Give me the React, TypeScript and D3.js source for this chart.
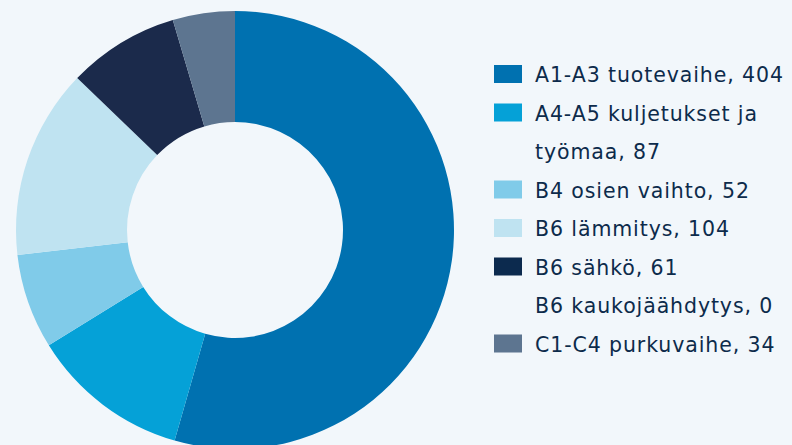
import React from "react";
import * as d3 from "d3";

const categories = [
  "A1-A3 tuotevaihe",
  "A4-A5 kuljetukset ja työmaa",
  "B4 osien vaihto",
  "B6 lämmitys",
  "B6 sähkö",
  "B6 kaukojäähdytys",
  "C1-C4 purkuvaihe",
];
const values = [404, 87, 52, 104, 61, 0, 34];
const colors = ["#0071b0", "#05a1d7", "#80cbe9", "#bfe3f1", "#1b2a4b", "#8fa3b8", "#5d7590"];
const legendColors = ["#0071b0", "#05a1d7", "#80cbe9", "#bfe3f1", "#0c2a4e", "#8fa3b8", "#5d7590"];

const W = 792;
const H = 445;

function wrap(text: string, maxChars: number): string[] {
  const words = text.split(" ");
  const lines: string[] = [];
  let cur = "";
  for (const w of words) {
    const next = cur ? cur + " " + w : w;
    if (next.length > maxChars && cur) {
      lines.push(cur);
      cur = w;
    } else cur = next;
  }
  if (cur) lines.push(cur);
  return lines;
}

export default function App() {
  const cx = 235, cy = 230, rOuter = 219, rInner = 108;
  const data = categories.map((c, i) => ({ name: c, value: values[i], color: colors[i], lc: legendColors[i] }));
  const pie = d3.pie<any>().value((d) => d.value).sort(null)(data);
  const arc = d3.arc<any>().innerRadius(rInner).outerRadius(rOuter);

  const lx = 494, tx = 535, y0 = 82, step = 38.5;
  let row = 0;
  const legendItems = data.map((d) => {
    const lines = wrap(`${d.name}, ${d.value}`, 24);
    const startRow = row;
    row += lines.length;
    return { ...d, lines, startRow };
  });

  return (
    <svg width={W} height={H} style={{ position: "absolute", left: 0, top: 0, background: "#f2f7fb" }}>
      <rect x={0} y={0} width={W} height={H} fill="#f2f7fb" />
      <g transform={`translate(${cx},${cy})`}>
        {pie.map((p, i) => (
          <path key={i} d={arc(p) || ""} fill={p.data.color} />
        ))}
      </g>
      <g fontFamily="'DejaVu Sans', sans-serif" fontSize={20.5} letterSpacing={0.9} fill="#0d2b4b">
        {legendItems.map((d, i) => (
          <g key={i}>
            {d.value > 0 && (
              <rect x={lx} y={y0 + d.startRow * step - 17} width={28} height={18} fill={d.lc} />
            )}
            {d.lines.map((ln, j) => (
              <text key={j} x={tx} y={y0 + (d.startRow + j) * step}>
                {ln}
              </text>
            ))}
          </g>
        ))}
      </g>
    </svg>
  );
}
